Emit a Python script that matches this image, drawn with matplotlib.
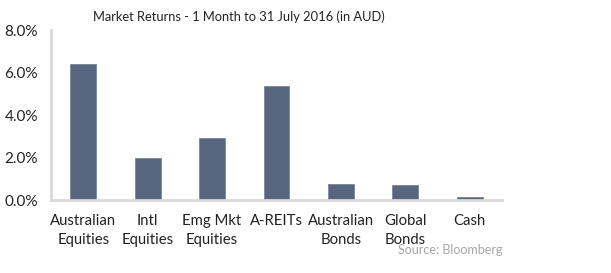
import matplotlib
matplotlib.use('Agg')
import matplotlib.pyplot as plt
from matplotlib.ticker import FuncFormatter

categories = ['Australian\nEquities', 'Intl\nEquities', 'Emg Mkt\nEquities', 'A-REITs',
              'Australian\nBonds', 'Global\nBonds', 'Cash']
returns = [6.4, 2.0, 2.9, 5.35, 0.75, 0.71, 0.14]
yticks = [0, 2, 4, 6, 8]

plt.rcParams['font.family'] = ['Lato', 'DejaVu Sans']

fig = plt.figure(figsize=(6.11, 2.73), dpi=100)
ax = fig.add_axes([0.0835, 0.267, 0.738, 0.623])

x = range(len(categories))
ax.bar(x, returns, width=0.4, color='#58667f', edgecolor='#7a859a', linewidth=0.6, zorder=2)

ax.set_xlim(-0.5, len(categories) - 0.5)
ax.set_ylim(0, 8)
ax.set_yticks(yticks)
ax.yaxis.set_major_formatter(FuncFormatter(lambda v, p: f'{v:.1f}%'))
ax.set_xticks(list(x))
ax.set_xticklabels(categories, fontsize=10.7, color='#222222', linespacing=1.45)
ax.tick_params(axis='y', length=0, pad=9.5, labelsize=11, labelcolor='#222222')
ax.tick_params(axis='x', length=0, pad=10)

for s in ['top', 'right']:
    ax.spines[s].set_visible(False)
for s in ['left', 'bottom']:
    ax.spines[s].set_color('#d9d9d9')
    ax.spines[s].set_linewidth(2)

fig.text(0.391, 0.94, 'Market Returns - 1 Month to 31 July 2016 (in AUD)',
         ha='center', va='center', fontsize=9.3, color='#222222')
fig.text(0.822, 0.083, 'Source: Bloomberg', ha='right', va='center',
         fontsize=9, color='#a6a6a6')

fig.savefig('out.png', dpi=100)
